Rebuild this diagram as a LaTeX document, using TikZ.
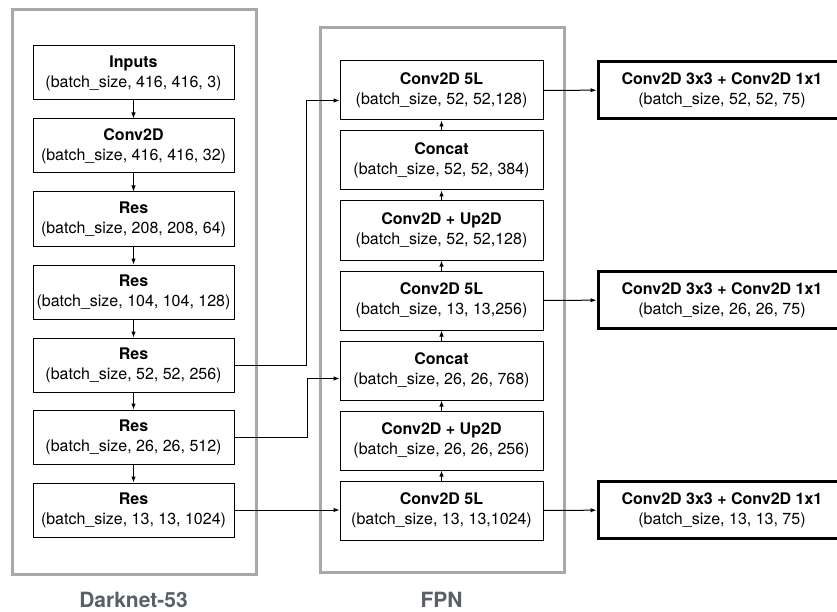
\documentclass[tikz,border=0pt]{standalone}
\usepackage{fontspec}
\setmainfont{TeX Gyre Heros}
\usetikzlibrary{arrows.meta}
\definecolor{panelgray}{HTML}{A6A9AC}
\definecolor{titlegray}{HTML}{5B6067}
\begin{document}
\begin{tikzpicture}[x=1pt, y=-1pt,
  layer/.style={draw, line width=1pt, align=center, inner sep=0pt,
    minimum width=201pt, minimum height=54pt, font=\fontsize{16}{20}\selectfont},
  fpnlayer/.style={layer, minimum width=203pt, minimum height=59pt},
  head/.style={layer, line width=3pt, minimum width=248pt, minimum height=57pt},
  panel/.style={draw=panelgray, line width=3pt},
  title/.style={text=titlegray, font=\fontsize{21}{24}\selectfont\bfseries},
  arr/.style={line width=1pt, -{Latex[length=6pt,width=4.5pt]}}]
\useasboundingbox (0,0) rectangle (837,612);
% ====================
% Backbone: Darknet-53
\draw[panel] (12,10) rectangle (256,574);
\node[layer] (inputs) at (133.5,73)  {\textbf{Inputs}\\(batch\_size, 416, 416, 3)};
\node[layer] (conv)   at (133.5,146) {\textbf{Conv2D}\\(batch\_size, 416, 416, 32)};
\node[layer] (res208) at (133.5,219) {\textbf{Res}\\(batch\_size, 208, 208, 64)};
\node[layer] (res104) at (133.5,292) {\textbf{Res}\\(batch\_size, 104, 104, 128)};
\node[layer] (res52)  at (133.5,365) {\textbf{Res}\\(batch\_size, 52, 52, 256)};
\node[layer] (res26)  at (133.5,437) {\textbf{Res}\\(batch\_size, 26, 26, 512)};
\node[layer] (res13)  at (133.5,510) {\textbf{Res}\\(batch\_size, 13, 13, 1024)};
\node[title] (darknet) at (133.5,600) {Darknet-53};
% Arrows down the backbone
\draw[arr] (inputs) -- (conv);
\draw[arr] (conv) -- (res208);
\draw[arr] (res208) -- (res104);
\draw[arr] (res104) -- (res52);
\draw[arr] (res52) -- (res26);
\draw[arr] (res26) -- (res13);

% ====================
% Neck: FPN
\draw[panel] (320,28) rectangle (564,572);
\node[fpnlayer] (c5a)   at (441.5,90.5)  {\textbf{Conv2D 5L}\\(batch\_size, 52, 52,128)};
\node[fpnlayer] (cat52) at (441.5,160.5) {\textbf{Concat}\\(batch\_size, 52, 52, 384)};
\node[fpnlayer] (up52)  at (441.5,230.5) {\textbf{Conv2D + Up2D}\\(batch\_size, 52, 52,128)};
\node[fpnlayer] (c5b)   at (441.5,300.5) {\textbf{Conv2D 5L}\\(batch\_size, 13, 13,256)};
\node[fpnlayer] (cat26) at (441.5,370.5) {\textbf{Concat}\\(batch\_size, 26, 26, 768)};
\node[fpnlayer] (up26)  at (441.5,440.5) {\textbf{Conv2D + Up2D}\\(batch\_size, 26, 26, 256)};
\node[fpnlayer] (c5c)   at (441.5,510.5) {\textbf{Conv2D 5L}\\(batch\_size, 13, 13,1024)};
\node[title] (fpn) at (441.5,600) {FPN};
% Arrows up the FPN
\draw[arr] (c5c) -- (up26);
\draw[arr] (up26) -- (cat26);
\draw[arr] (cat26) -- (c5b);
\draw[arr] (c5b) -- (up52);
\draw[arr] (up52) -- (cat52);
\draw[arr] (cat52) -- (c5a);

% ====================
% Heads
\node[head] (out52) at (722,90)  {\textbf{Conv2D 3x3 + Conv2D 1x1}\\(batch\_size, 52, 52, 75)};
\node[head] (out26) at (722,300) {\textbf{Conv2D 3x3 + Conv2D 1x1}\\(batch\_size, 26, 26, 75)};
\node[head] (out13) at (722,510) {\textbf{Conv2D 3x3 + Conv2D 1x1}\\(batch\_size, 13, 13, 75)};

% ====================
% Connectors between the parts
\draw[arr] (res52.east) -- ++(72,0) |- ([yshift=-10pt]c5a.west);
\draw[arr] (res26.east) -- ++(73,0) |- ([yshift=-8pt]cat26.west);
\draw[arr] (res13.east) -- (res13.east -| c5c.west);
\draw[arr] (c5a) -- (out52);
\draw[arr] (c5b) -- (out26);
\draw[arr] (c5c) -- (out13);
\end{tikzpicture}
\end{document}
